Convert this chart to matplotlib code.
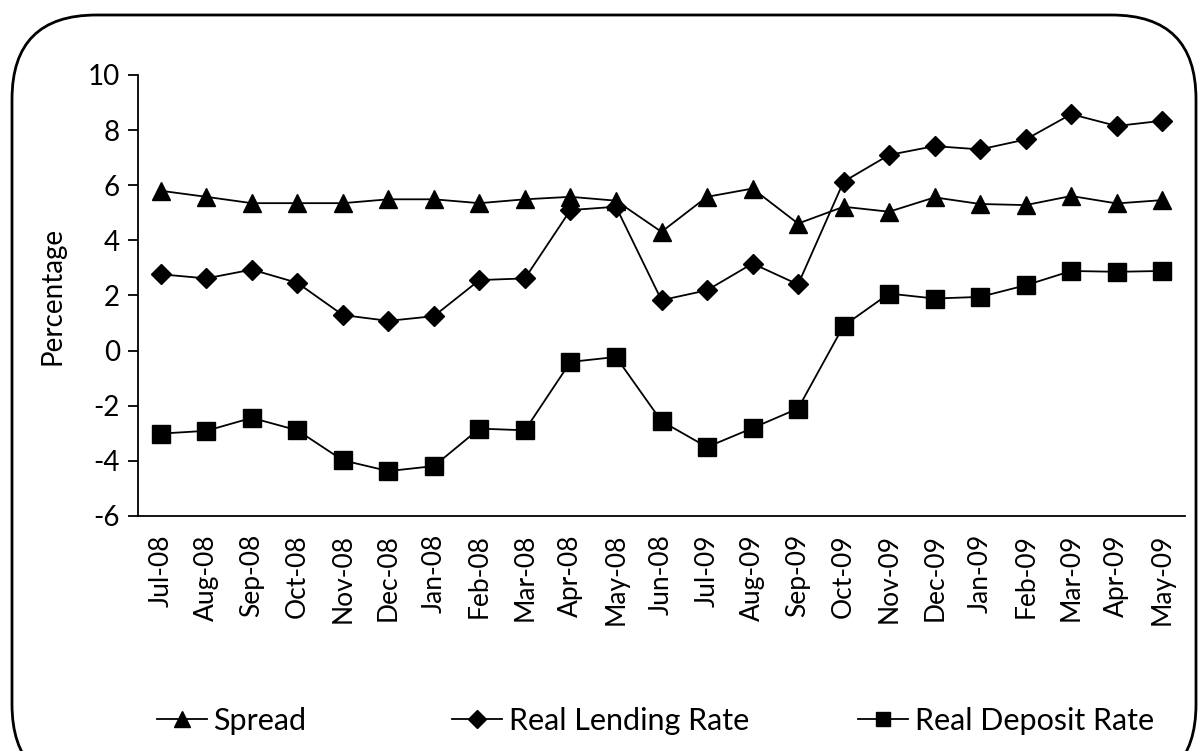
import matplotlib.pyplot as plt
from matplotlib.patches import FancyBboxPatch

months = ["Jul-08", "Aug-08", "Sep-08", "Oct-08", "Nov-08", "Dec-08", "Jan-08",
          "Feb-08", "Mar-08", "Apr-08", "May-08", "Jun-08", "Jul-09", "Aug-09",
          "Sep-09", "Oct-09", "Nov-09", "Dec-09", "Jan-09", "Feb-09", "Mar-09",
          "Apr-09", "May-09"]
spread = [5.80, 5.58, 5.35, 5.35, 5.35, 5.49, 5.49, 5.35, 5.49, 5.58, 5.44,
          4.31, 5.58, 5.88, 4.61, 5.22, 5.04, 5.56, 5.32, 5.28, 5.61, 5.34, 5.46]
lending = [2.77, 2.62, 2.94, 2.46, 1.29, 1.08, 1.25, 2.56, 2.62, 5.10, 5.22,
           1.83, 2.19, 3.16, 2.40, 6.13, 7.10, 7.42, 7.30, 7.66, 8.58, 8.15, 8.34]
deposit = [-3.01, -2.91, -2.44, -2.89, -3.98, -4.37, -4.19, -2.83, -2.89, -0.41, -0.23,
           -2.56, -3.50, -2.81, -2.10, 0.90, 2.07, 1.89, 1.95, 2.37, 2.89, 2.86, 2.89]
yticks = [-6, -4, -2, 0, 2, 4, 6, 8, 10]

plt.rcParams['font.family'] = ['Lato', 'DejaVu Sans']

fig = plt.figure(figsize=(12.03, 7.51), dpi=100)
W, H = 1203, 751

# rounded frame around the chart
frame = FancyBboxPatch((12 / W, -0.05), 1184 / W, 1 - 15 / H + 0.05,
                       boxstyle="round,pad=0,rounding_size=0.07",
                       transform=fig.transFigure, fill=False, lw=2, ec="black",
                       mutation_aspect=W / H)
fig.patches.append(frame)

ax = fig.add_axes([138 / W, 1 - 516 / H, (1185 - 138) / W, (516 - 75) / H])
x = range(len(months))
l1, = ax.plot(x, spread, marker="^", label="Spread", color="black", lw=1.3,
              markersize=13)
l2, = ax.plot(x, lending, marker="D", label="Real Lending Rate", color="black",
              lw=1.3, markersize=10.5)
l3, = ax.plot(x, deposit, marker="s", label="Real Deposit Rate", color="black",
              lw=1.3, markersize=12.5)

ax.set_xlim(-0.5, len(months) - 0.5)
ax.set_ylim(-6, 10)
ax.set_yticks(yticks)
ax.set_yticklabels([str(t) for t in yticks], fontsize=20)
ax.set_xticks(list(x))
ax.set_xticklabels(months, rotation=90, fontsize=19)
ax.tick_params(axis="x", length=0, pad=13)
ax.tick_params(axis="y", length=7, width=1.3, direction="out", pad=6)
ax.spines["top"].set_visible(False)
ax.spines["right"].set_visible(False)
ax.spines["left"].set_linewidth(1.3)
ax.spines["bottom"].set_linewidth(1.3)
ax.set_ylabel("Percentage", fontsize=20, labelpad=16)

# one legend per entry so the spacing follows the reference
for line, x0 in [(l1, 157), (l2, 452), (l3, 858)]:
    fig.legend([line], [line.get_label()], loc="center left",
               bbox_to_anchor=(x0 / W, 1 - 721 / H), frameon=False, fontsize=22,
               handlelength=1.65, handletextpad=0.2, borderpad=0,
               borderaxespad=0, markerscale=0.85)

fig.savefig("out.png", dpi=100)
